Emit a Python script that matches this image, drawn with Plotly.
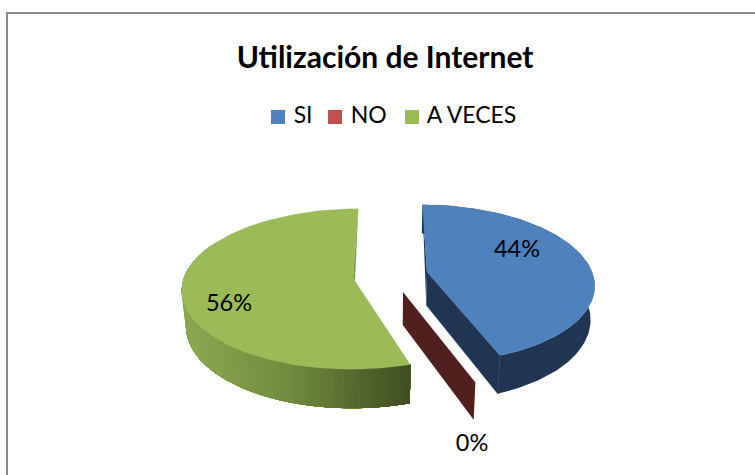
import numpy as np
import plotly.graph_objects as go

# ---- data ----
categories = ["SI", "NO", "A VECES"]
values = [44, 0, 56]
labels = ["44%", "0%", "56%"]
title_text = "Utilización de Internet"

# ---- styles and layout constants ----
top_colors = ["#4f81bd", "#c0504d", "#9bbb59"]
wall_colors = ["#1f3552", "#4f201e", "#7f9a47"]
label_xy = [(517, 251), (472, 445), (229, 305)]
key_xy = [(278, 117), (335, 117), (412, 117)]
centers = [(427, 272), (403, 292), (355, 281)]
radius_x = [165, 170, 172]
radius_y = [77.0, 86.0, 79.5]
persp = [0.146, 0.125, 0.10]
depths = [33.0, 33.0, 35.0]
start_trim = [0.0, 0.0, 3.5]      # degrees trimmed from the near edge by the explode perspective
end_trim = [1.0, 0.0, 0.0]
VX, SHRINK = 391.0, 0.02
FONT = "Lato"


def project(i, theta_deg, radial=1.0, depth=0.0):
    """Project a point of slice i with a tilted perspective camera."""
    t = np.radians(np.asarray(theta_deg, dtype=float))
    c, s = radial * np.sin(t), -radial * np.cos(t)
    w = 1 - persp[i] * s
    cx, cy = centers[i]
    x = VX + (cx - VX + radius_x[i] * c) / w * (1 - SHRINK * depth / depths[i])
    y = cy + (radius_y[i] * s + depth) / w
    return x, y


def poly(xs, ys, color, width=0.0):
    return go.Scatter(x=list(xs), y=list(ys), mode="lines", fill="toself", fillcolor=color,
                      line=dict(color=color, width=width), hoverinfo="skip", showlegend=False)


def mix(a, b, t):
    return "rgb(%d,%d,%d)" % tuple(int(round(a[k] + (b[k] - a[k]) * t)) for k in range(3))


fig = go.Figure()

edges = np.cumsum([0] + values) / sum(values) * 360

# --- SI ---
i = 0
D = depths[i]
a0, a1 = edges[0] + start_trim[0], edges[1] + end_trim[0]
th = np.linspace(a0, a1, 120)
ax, ay = project(i, 0, 0.0)
abx, aby = project(i, 0, 0.0, D)
tx, ty = project(i, th)
bx, by = project(i, th, 1.0, D)
fig.add_trace(poly([tx[0], abx, ax], [ty[0], aby, ay], wall_colors[i]))
fig.add_trace(poly(np.r_[tx, bx[::-1]], np.r_[ty, by[::-1]], wall_colors[i]))
fig.add_trace(poly([ax, tx[-1], bx[-1], abx], [ay, ty[-1], by[-1], aby], wall_colors[i], 0.6))
fig.add_trace(poly(np.r_[ax, tx], np.r_[ay, ty], top_colors[i], 0.2))

# --- NO (zero-sweep slice: only its wall shows) ---
i = 1
D = depths[i]
ax, ay = project(i, 0, 0.0)
abx, aby = project(i, 0, 0.0, D)
rx, ry = project(i, edges[1])
brx, bry = project(i, edges[1], 1.0, D)
fig.add_trace(poly([ax, rx, brx, abx], [ay, ry, bry, aby], wall_colors[i]))

# --- A VECES ---
i = 2
D = depths[i]
a0, a1 = edges[2] + start_trim[2], edges[3]
ax, ay = project(i, 0, 0.0)
grad_l, grad_m, grad_r = (138, 166, 80), (110, 138, 62), (62, 76, 31)
grid = np.linspace(300, a0, 90)
xl, xr = project(i, 278, 1.0, D)[0], project(i, a0)[0]
for k in range(len(grid) - 1):
    seg = np.linspace(a0, grid[k], 80)
    tx, ty = project(i, seg)
    bx, by = project(i, seg, 1.0, D)
    frac = float(np.clip((project(i, grid[k])[0] - xl) / (xr - xl), 0, 1))
    col = mix(grad_l, grad_m, frac / 0.45) if frac < 0.45 else mix(grad_m, grad_r, (frac - 0.45) / 0.55)
    fig.add_trace(poly(np.r_[tx, bx[::-1]], np.r_[ty, by[::-1]], col))
th = np.linspace(a0, a1, 160)
tx, ty = project(i, th)
fig.add_trace(poly(np.r_[ax, tx, ax - 2], np.r_[ay, ty, ay - 3], top_colors[i], 0.2))
fig.add_trace(poly([tx[-1], ax - 2, ax], [ty[-1], ay - 3, ay], wall_colors[i]))

# --- data labels ---
fig.add_trace(go.Scatter(x=[p[0] for p in label_xy], y=[p[1] for p in label_xy], text=labels,
                         mode="text", textposition="middle center",
                         textfont=dict(family=FONT, size=23.5, color="#000000"),
                         hoverinfo="skip", showlegend=False))

# --- legend key, placed as in the original ---
for name, color, xy in zip(categories, top_colors, key_xy):
    fig.add_trace(go.Scatter(x=[xy[0]], y=[xy[1]], mode="markers+text", name=name, text=[" " + name],
                             textposition="middle right",
                             textfont=dict(family=FONT, size=23, color="#000000"),
                             marker=dict(symbol="square", size=14, color=color),
                             hoverinfo="name", showlegend=False))

fig.update_layout(
    width=755, height=475, margin=dict(l=0, r=0, t=0, b=0),
    paper_bgcolor="white", plot_bgcolor="white", showlegend=False,
    title=dict(text="<b>%s</b>" % title_text, x=0.51, xanchor="center", y=0.88, yanchor="middle",
               font=dict(family=FONT, size=30, color="#000000")),
    xaxis=dict(range=[0, 755], visible=False, fixedrange=True),
    yaxis=dict(range=[475, 0], visible=False, fixedrange=True),
    shapes=[dict(type="rect", xref="x", yref="y", x0=7, y0=13, x1=780, y1=500,
                 line=dict(color="#8c8c8c", width=2), fillcolor="rgba(0,0,0,0)", layer="below")],
)

fig.write_html("out.html", include_plotlyjs=True, config={"displayModeBar": False},
               post_script="document.body.style.margin='0';")
